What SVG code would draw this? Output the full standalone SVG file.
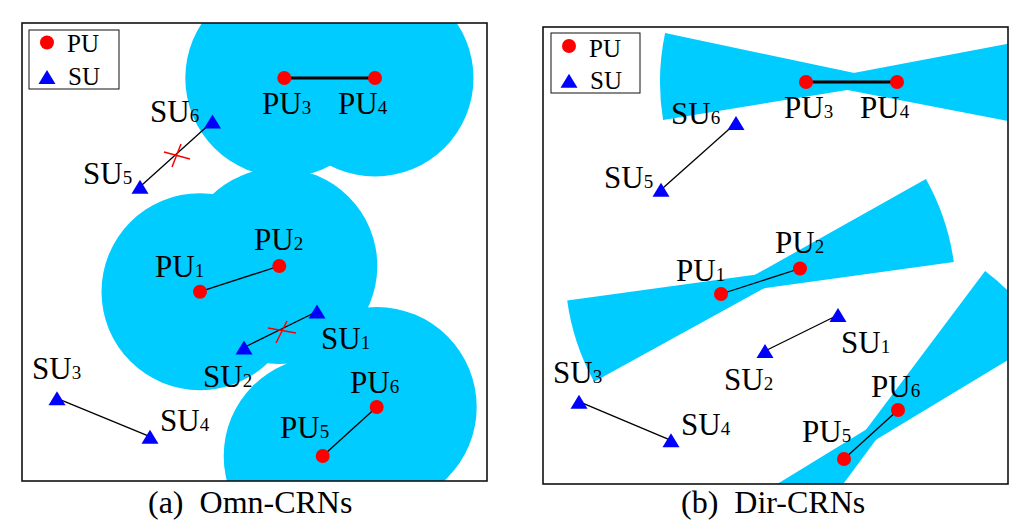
<svg xmlns="http://www.w3.org/2000/svg" xmlns:xlink="http://www.w3.org/1999/xlink" width="1024" height="529" viewBox="0 0 1024 529">
<defs>
<style>
.area{fill:#00CCFF;stroke:none}
.frame{fill:none;stroke:#111;stroke-width:1.6}
.leg{fill:#fff;stroke:#111;stroke-width:1}
.link{stroke:#000;stroke-width:1.3;fill:none}
.thick{stroke:#000;stroke-width:3.2;fill:none}
.cross{stroke:#FF0000;stroke-width:1.5;fill:none}
.pu{fill:#FF0000}
.su{fill:#0000FF}
.lbl{font-family:"Liberation Serif","Times New Roman",serif;font-size:31px;fill:#000}
.sub{font-size:19px}
.legt{font-family:"Liberation Serif","Times New Roman",serif;font-size:25px;fill:#000}
.cap{font-family:"Liberation Serif","Times New Roman",serif;font-size:32px;fill:#000;white-space:pre}
</style>
<path id="tri" d="M0,-7 L8.5,7 L-8.5,7 Z"/>
<clipPath id="clipA"><rect x="22" y="23" width="465" height="458"/></clipPath>
<clipPath id="clipB"><rect x="543" y="27" width="465" height="457"/></clipPath>
</defs>
<rect width="1024" height="529" fill="#fff"/>

<!-- Panel (a) -->
<g id="coverageA" clip-path="url(#clipA)">
<circle class="area" cx="284.3" cy="78" r="99"/>
<circle class="area" cx="375" cy="78" r="98.5"/>
<circle class="area" cx="200" cy="291.7" r="98.5"/>
<circle class="area" cx="279.3" cy="266" r="98"/>
<circle class="area" cx="322.7" cy="456" r="99"/>
<circle class="area" cx="376.7" cy="407" r="100"/>
</g>

<g id="connectorsA">
<line class="thick" x1="284.3" y1="78" x2="375" y2="78"/>
<line class="link" x1="200" y1="291.7" x2="279.3" y2="266"/>
<line class="link" x1="322.7" y1="456" x2="376.7" y2="407"/>
<line class="link" x1="140" y1="186.7" x2="212.5" y2="121.5"/>
<line class="link" x1="244" y1="347.5" x2="317" y2="311.5"/>
<line class="link" x1="57" y1="398.3" x2="150" y2="436.7"/>
<path class="cross" d="M164,152 L190,159 M172,167 L181,144"/>
<path class="cross" d="M268,328 L296,333 M276,343 L287,321"/>
</g>

<g id="a-PU1"><circle class="pu" cx="200" cy="291.7" r="7"/><text class="lbl" x="155" y="277">PU<tspan class="sub">1</tspan></text></g>
<g id="a-PU2"><circle class="pu" cx="279.3" cy="266" r="7"/><text class="lbl" x="254" y="250">PU<tspan class="sub">2</tspan></text></g>
<g id="a-PU3"><circle class="pu" cx="284.3" cy="78" r="7"/><text class="lbl" x="262" y="114">PU<tspan class="sub">3</tspan></text></g>
<g id="a-PU4"><circle class="pu" cx="375" cy="78" r="7"/><text class="lbl" x="338" y="114">PU<tspan class="sub">4</tspan></text></g>
<g id="a-PU5"><circle class="pu" cx="322.7" cy="456" r="7"/><text class="lbl" x="280" y="438">PU<tspan class="sub">5</tspan></text></g>
<g id="a-PU6"><circle class="pu" cx="376.7" cy="407" r="7"/><text class="lbl" x="350" y="393">PU<tspan class="sub">6</tspan></text></g>
<g id="a-SU1"><use xlink:href="#tri" href="#tri" class="su" x="317" y="311.5"/><text class="lbl" x="321" y="349">SU<tspan class="sub">1</tspan></text></g>
<g id="a-SU2"><use xlink:href="#tri" href="#tri" class="su" x="244" y="347.5"/><text class="lbl" x="203" y="387">SU<tspan class="sub">2</tspan></text></g>
<g id="a-SU3"><use xlink:href="#tri" href="#tri" class="su" x="57" y="398.3"/><text class="lbl" x="32" y="379">SU<tspan class="sub">3</tspan></text></g>
<g id="a-SU4"><use xlink:href="#tri" href="#tri" class="su" x="150" y="436.7"/><text class="lbl" x="160" y="431">SU<tspan class="sub">4</tspan></text></g>
<g id="a-SU5"><use xlink:href="#tri" href="#tri" class="su" x="140" y="186.7"/><text class="lbl" x="83" y="184">SU<tspan class="sub">5</tspan></text></g>
<g id="a-SU6"><use xlink:href="#tri" href="#tri" class="su" x="212.5" y="121.5"/><text class="lbl" x="150" y="122">SU<tspan class="sub">6</tspan></text></g>

<g id="a-legend">
<rect class="leg" x="29" y="30" width="90" height="59"/>
<circle class="pu" cx="47" cy="42.5" r="7"/>
<text class="legt" x="67" y="52">PU</text>
<use xlink:href="#tri" href="#tri" class="su" x="47" y="77"/>
<text class="legt" x="68" y="85">SU</text>
</g>
<rect id="a-frame" class="frame" x="22" y="23" width="465" height="458"/>
<text id="a-caption" class="cap" x="148" y="513" xml:space="preserve">(a)  Omn-CRNs</text>

<!-- Panel (b) -->
<g id="coverageB" clip-path="url(#clipB)">
<path class="area" d="M806,82 L1038.8,37.8 A237,237 0 0 1 1038.7,126.8 Z"/>
<path class="area" d="M897,82 L663.05,119.9 A237,237 0 0 1 665.1,33.1 Z"/>
<path class="area" d="M721,294 L925.9,179 A235,235 0 0 1 953.8,262.1 Z"/>
<path class="area" d="M800,268.5 L594.1,381.7 A235,235 0 0 1 567.2,300.4 Z"/>
<path class="area" d="M844,459 L985.1,271.1 A235,235 0 0 1 1045.2,337.6 Z"/>
<path class="area" d="M898,410 L758.2,598.9 A235,235 0 0 1 697.6,532.8 Z"/>
</g>

<g id="connectorsB">
<line class="thick" x1="806" y1="82" x2="897" y2="82"/>
<line class="link" x1="721" y1="294" x2="800" y2="268.5"/>
<line class="link" x1="844" y1="459" x2="898" y2="410"/>
<line class="link" x1="661" y1="189.7" x2="736" y2="123"/>
<line class="link" x1="765" y1="351" x2="838" y2="315"/>
<line class="link" x1="579" y1="401.7" x2="671" y2="440.3"/>
</g>

<g id="b-PU1"><circle class="pu" cx="721" cy="294" r="7"/><text class="lbl" x="676" y="281">PU<tspan class="sub">1</tspan></text></g>
<g id="b-PU2"><circle class="pu" cx="800" cy="268.5" r="7"/><text class="lbl" x="775" y="253">PU<tspan class="sub">2</tspan></text></g>
<g id="b-PU3"><circle class="pu" cx="806" cy="82" r="7"/><text class="lbl" x="784" y="118">PU<tspan class="sub">3</tspan></text></g>
<g id="b-PU4"><circle class="pu" cx="897" cy="82" r="7"/><text class="lbl" x="860" y="118">PU<tspan class="sub">4</tspan></text></g>
<g id="b-PU5"><circle class="pu" cx="844" cy="459" r="7"/><text class="lbl" x="802" y="442">PU<tspan class="sub">5</tspan></text></g>
<g id="b-PU6"><circle class="pu" cx="898" cy="410" r="7"/><text class="lbl" x="871" y="397">PU<tspan class="sub">6</tspan></text></g>
<g id="b-SU1"><use xlink:href="#tri" href="#tri" class="su" x="838" y="315"/><text class="lbl" x="841" y="353">SU<tspan class="sub">1</tspan></text></g>
<g id="b-SU2"><use xlink:href="#tri" href="#tri" class="su" x="765" y="351"/><text class="lbl" x="724" y="390">SU<tspan class="sub">2</tspan></text></g>
<g id="b-SU3"><use xlink:href="#tri" href="#tri" class="su" x="579" y="401.7"/><text class="lbl" x="553" y="383">SU<tspan class="sub">3</tspan></text></g>
<g id="b-SU4"><use xlink:href="#tri" href="#tri" class="su" x="671" y="440.3"/><text class="lbl" x="681" y="435">SU<tspan class="sub">4</tspan></text></g>
<g id="b-SU5"><use xlink:href="#tri" href="#tri" class="su" x="661" y="189.7"/><text class="lbl" x="604" y="188">SU<tspan class="sub">5</tspan></text></g>
<g id="b-SU6"><use xlink:href="#tri" href="#tri" class="su" x="736" y="123"/><text class="lbl" x="671" y="124">SU<tspan class="sub">6</tspan></text></g>

<g id="b-legend">
<rect class="leg" x="551" y="33" width="89" height="60"/>
<circle class="pu" cx="569" cy="46" r="7"/>
<text class="legt" x="589" y="56.5">PU</text>
<use xlink:href="#tri" href="#tri" class="su" x="569" y="80.7"/>
<text class="legt" x="590" y="89">SU</text>
</g>
<rect id="b-frame" class="frame" x="543" y="27" width="465" height="457"/>
<text id="b-caption" class="cap" x="681" y="513" xml:space="preserve">(b)  Dir-CRNs</text>
</svg>
